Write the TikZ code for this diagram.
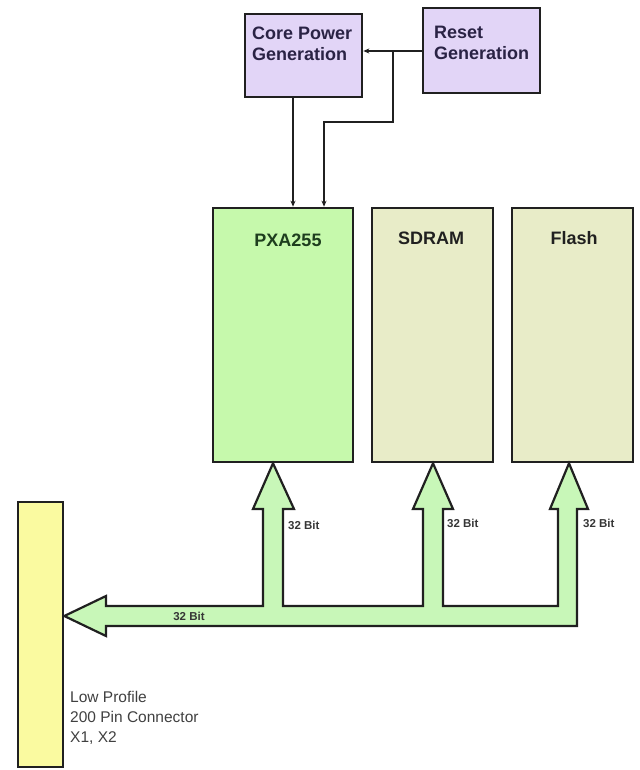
\documentclass[tikz,border=0pt]{standalone}
\usepackage{fontspec}
\setmainfont{Liberation Sans}
\usetikzlibrary{arrows.meta}
\definecolor{lav}{HTML}{E2D5F7}
\definecolor{pxa}{HTML}{C6F9AC}
\definecolor{mem}{HTML}{E8ECC8}
\definecolor{conn}{HTML}{FAFAA0}
\definecolor{bus}{HTML}{C8F7B8}
\definecolor{navy}{HTML}{2A2345}
\definecolor{dkgreen}{HTML}{1E3E1E}
\definecolor{edge}{HTML}{202020}
\tikzset{
  blk/.style={draw=edge, line width=2.6pt, inner sep=0pt},
  pwrbox/.style={blk, fill=lav, minimum width=117pt},
  membox/.style={blk, fill=mem, minimum width=121pt, minimum height=254pt},
  boxtxt/.style={font=\fontsize{18}{21}\selectfont\bfseries, inner sep=0pt, align=left},
  bitlbl/.style={font=\fontsize{11.5}{13}\selectfont\bfseries, text=edge!90, inner sep=0pt},
  sig/.style={draw=edge, line width=2.2pt, -{Stealth[length=6pt,width=5pt]}},
}
\begin{document}
\begin{tikzpicture}[x=1pt,y=-1pt]
\useasboundingbox (0,0) rectangle (639,770);
% power / reset
\node[pwrbox, minimum height=83pt] (core) at (303.5,55.5) {};
\node[pwrbox, minimum height=85pt] (reset) at (481.5,50.5) {};
\node[boxtxt, text=navy, anchor=north west] (coret) at (252,27) {Core Power\\Generation};
\node[boxtxt, text=navy, anchor=north west] (resett) at (434,26) {Reset\\Generation};
% main blocks
\node[blk, fill=pxa, minimum width=140pt, minimum height=254pt] (pxa) at (283,335) {};
\node[membox] (sdram) at (432.5,335) {};
\node[membox] (flash) at (572.5,335) {};
\node[boxtxt, text=dkgreen] (pxat) at (288,240) {PXA255};
\node[boxtxt, text=edge] (sdramt) at (431,238) {SDRAM};
\node[boxtxt, text=edge] (flasht) at (574,238) {Flash};
% connector
\node[blk, fill=conn, minimum width=45pt, minimum height=265pt] (conn) at (40.5,634.5) {};
\node[font=\fontsize{15.5}{20}\selectfont, text=black!75, align=left, anchor=north west, inner sep=0pt] (connt) at (70,691) {Low Profile\\200 Pin Connector\\X1, X2};
% signal lines
\coordinate (j) at (393,51);
\draw[sig] (reset.west |- j) -- (core.east |- j);
\draw[sig] (core.south -| 293,0) -- (pxa.north -| 293,0);
\draw[sig] (j) -- (393,122) -- (324,122) -- (pxa.north -| 324,0);
% bus
\draw[fill=bus, draw=edge, line width=2.2pt, line join=miter]
  (conn.east |- 0,616) -- (106,596) -- (106,606) -- (263,606) -- (263,509) -- (253,509)
  -- (pxa.south -| 273,0) -- (294,509) -- (283,509) -- (283,606) -- (423,606) -- (423,509)
  -- (413,509) -- (sdram.south -| 433,0) -- (453,509) -- (443,509) -- (443,606) -- (558,606)
  -- (558,509) -- (550,509) -- (flash.south -| 569,0) -- (588,509) -- (577,509) -- (577,626)
  -- (106,626) -- (106,636) -- cycle;
\node[bitlbl, anchor=west] (b1) at (288,525) {32 Bit};
\node[bitlbl, anchor=west] (b2) at (447,523) {32 Bit};
\node[bitlbl, anchor=west] (b3) at (583,523) {32 Bit};
\node[bitlbl] (b4) at (189,616) {32 Bit};
\end{tikzpicture}
\end{document}
